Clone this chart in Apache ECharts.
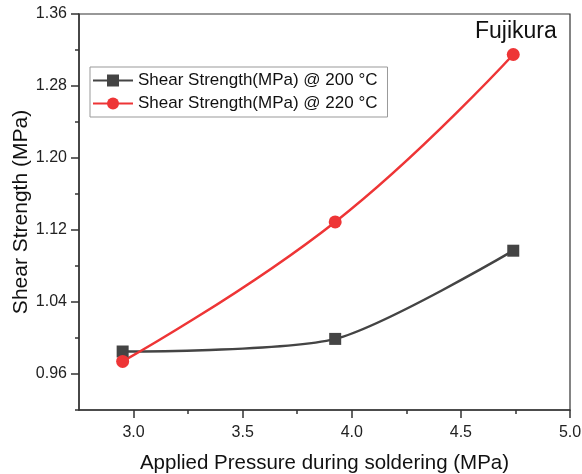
<!DOCTYPE html>
<html>
<head>
<meta charset="utf-8">
<script src="https://cdn.jsdelivr.net/npm/echarts@6/dist/echarts.min.js"></script>
<style>
html,body{margin:0;padding:0;background:#fff;}
#chart{width:582px;height:474px;}
</style>
</head>
<body>
<div id="chart"></div>
<script>
const pressure = [2.95, 3.924, 4.74];
const strength200 = [0.985, 0.999, 1.097];
const strength220 = [0.974, 1.129, 1.315];
const seriesNames = ['Shear Strength(MPa) @ 200 °C', 'Shear Strength(MPa) @ 220 °C'];
const xMajorTicks = [3.0, 3.5, 4.0, 4.5, 5.0];
const xMinorTicks = [3.25, 3.75, 4.25, 4.75];
const yMajorTicks = [0.96, 1.04, 1.12, 1.20, 1.28, 1.36];
const yMinorTicks = [0.92, 1.00, 1.08, 1.16, 1.24, 1.32];
const annotation = 'Fujikura';

const FONT = '"Liberation Sans", Arial, sans-serif';
const AX = '#333333';
const chart = echarts.init(document.getElementById('chart'), null, {renderer: 'canvas'});

function pairs(xs, ys) { return xs.map((x, i) => [x, ys[i]]); }

const option = {
  backgroundColor: '#ffffff',
  animation: false,
  textStyle: {fontFamily: FONT},
  grid: {left: 79, right: 12, top: 14, bottom: 64, outerBoundsMode: 'none', containLabel: false,
    show: true, borderColor: AX, borderWidth: 1.2, backgroundColor: 'transparent'},
  legend: {
    left: 90, top: 67,
    orient: 'vertical',
    itemWidth: 40, itemHeight: 15, itemGap: 6,
    padding: [5, 10, 5, 2],
    borderColor: '#999999', borderWidth: 1, borderRadius: 0,
    textStyle: {fontSize: 17, color: '#111', fontFamily: FONT},
    data: seriesNames
  },
  xAxis: [{
    type: 'value', min: 2.75, max: 5.0,
    name: 'Applied Pressure during soldering (MPa)',
    nameLocation: 'middle', nameGap: 43,
    nameTextStyle: {fontSize: 20.5, color: '#111', fontFamily: FONT},
    axisLine: {show: true, onZero: false, lineStyle: {color: AX, width: 1.5}},
    axisTick: {show: true, inside: false, length: 8, lineStyle: {color: AX, width: 1.5}, customValues: xMajorTicks},
    axisLabel: {fontSize: 16, color: '#222', margin: 15, customValues: xMajorTicks, formatter: v => v.toFixed(1)},
    splitLine: {show: false}
  }, {
    type: 'value', min: 2.75, max: 5.0, position: 'bottom',
    axisLine: {show: false},
    axisTick: {show: true, inside: false, length: 4, lineStyle: {color: AX, width: 1.5}, customValues: xMinorTicks},
    axisLabel: {show: false},
    splitLine: {show: false}
  }],
  yAxis: [{
    type: 'value', min: 0.92, max: 1.36,
    name: 'Shear Strength (MPa)',
    nameLocation: 'middle', nameGap: 47, nameMoveOverlap: false,
    nameTextStyle: {fontSize: 21, color: '#111', fontFamily: FONT},
    axisLine: {show: true, onZero: false, lineStyle: {color: AX, width: 1.5}},
    axisTick: {show: true, inside: false, length: 8, lineStyle: {color: AX, width: 1.5}, customValues: yMajorTicks},
    axisLabel: {fontSize: 16, color: '#222', margin: 12, customValues: yMajorTicks, formatter: v => v.toFixed(2)},
    splitLine: {show: false}
  }, {
    type: 'value', min: 0.92, max: 1.36, position: 'left',
    axisLine: {show: false},
    axisTick: {show: true, inside: false, length: 4, lineStyle: {color: AX, width: 1.5}, customValues: yMinorTicks},
    axisLabel: {show: false},
    splitLine: {show: false}
  }],
  series: [{
    name: seriesNames[0], type: 'line', smooth: 0.25,
    data: pairs(pressure, strength200),
    symbol: 'rect', symbolSize: 12,
    lineStyle: {color: '#444444', width: 2.5},
    itemStyle: {color: '#444444'}
  }, {
    name: seriesNames[1], type: 'line', smooth: 0.45,
    data: pairs(pressure, strength220),
    symbol: 'circle', symbolSize: 13,
    lineStyle: {color: '#ee3536', width: 2.5},
    itemStyle: {color: '#ee3536'}
  }],
  graphic: [{
    type: 'text', left: 475, top: 20,
    style: {text: annotation, fontSize: 23, fill: '#111', fontFamily: FONT}
  }]
};
chart.setOption(option);
</script>
</body>
</html>
